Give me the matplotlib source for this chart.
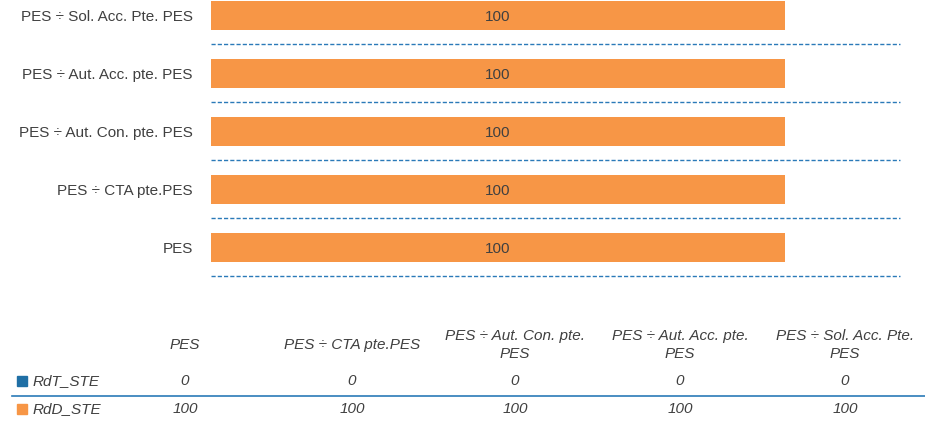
import matplotlib.pyplot as plt
from matplotlib.patches import Rectangle

# Data
categories = ['PES', 'PES ÷ CTA pte.PES', 'PES ÷ Aut. Con. pte. PES',
              'PES ÷ Aut. Acc. pte. PES', 'PES ÷ Sol. Acc. Pte. PES']
table_headers = ['PES', 'PES ÷ CTA pte.PES', 'PES ÷ Aut. Con. pte.\nPES',
                 'PES ÷ Aut. Acc. pte.\nPES', 'PES ÷ Sol. Acc. Pte.\nPES']
rdt_ste = [0, 0, 0, 0, 0]
rdd_ste = [100, 100, 100, 100, 100]

orange = '#F79646'
blue = '#1F6FA5'
grid_blue = '#2A7AB8'
text_col = '#404040'

plt.rcParams['font.family'] = ['Liberation Sans', 'DejaVu Sans']

W, H = 925, 422
fig = plt.figure(figsize=(W / 100, H / 100), dpi=100)
ax = fig.add_axes([211 / W, 1 - 276 / H, (900 - 211) / W, 276 / H])

y = list(range(len(categories)))
ax.barh(y, rdt_ste, height=0.5, color=blue)
bars = ax.barh(y, rdd_ste, left=rdt_ste, height=0.5, color=orange)
for b, v in zip(bars, rdd_ste):
    ax.text(b.get_x() + b.get_width() / 2, b.get_y() + b.get_height() / 2,
            str(v), ha='center', va='center_baseline', fontsize=11,
            color=text_col)

ax.set_xlim(0, 120)
ax.set_ylim(-0.5, 4.26)
for g in [i - 0.5 for i in range(len(categories))]:
    ax.axhline(g, color=grid_blue, lw=1, ls=(0, (3, 1.5)), zorder=0,
               clip_on=False)

ax.set_yticks(y)
ax.set_yticklabels(categories, fontsize=11, color=text_col)
ax.tick_params(axis='y', length=0, pad=13)
ax.set_xticks([])
for s in ax.spines.values():
    s.set_visible(False)

# Data table below
col_x = [185, 352, 515, 680, 845]
for cx, h in zip(col_x, table_headers):
    fig.text(cx / W, 1 - 345 / H, h, ha='center', va='center', fontsize=11,
             style='italic', color=text_col, linespacing=1.3)

rows = [('RdT_STE', rdt_ste, blue, 381), ('RdD_STE', rdd_ste, orange, 409)]
for name, vals, c, ry in rows:
    fig.patches.append(Rectangle((17 / W, 1 - (ry + 5) / H), 10 / W, 10 / H,
                                 transform=fig.transFigure, color=c))
    fig.text(33 / W, 1 - ry / H, name, ha='left', va='center', fontsize=11,
             style='italic', color=text_col)
    for cx, v in zip(col_x, vals):
        fig.text(cx / W, 1 - ry / H, str(v), ha='center', va='center',
                 fontsize=11, style='italic', color=text_col)

fig.add_artist(plt.Line2D([12 / W, 1], [1 - 396 / H, 1 - 396 / H],
                          transform=fig.transFigure, color=grid_blue, lw=1.2))

fig.savefig('out.png', dpi=100)
